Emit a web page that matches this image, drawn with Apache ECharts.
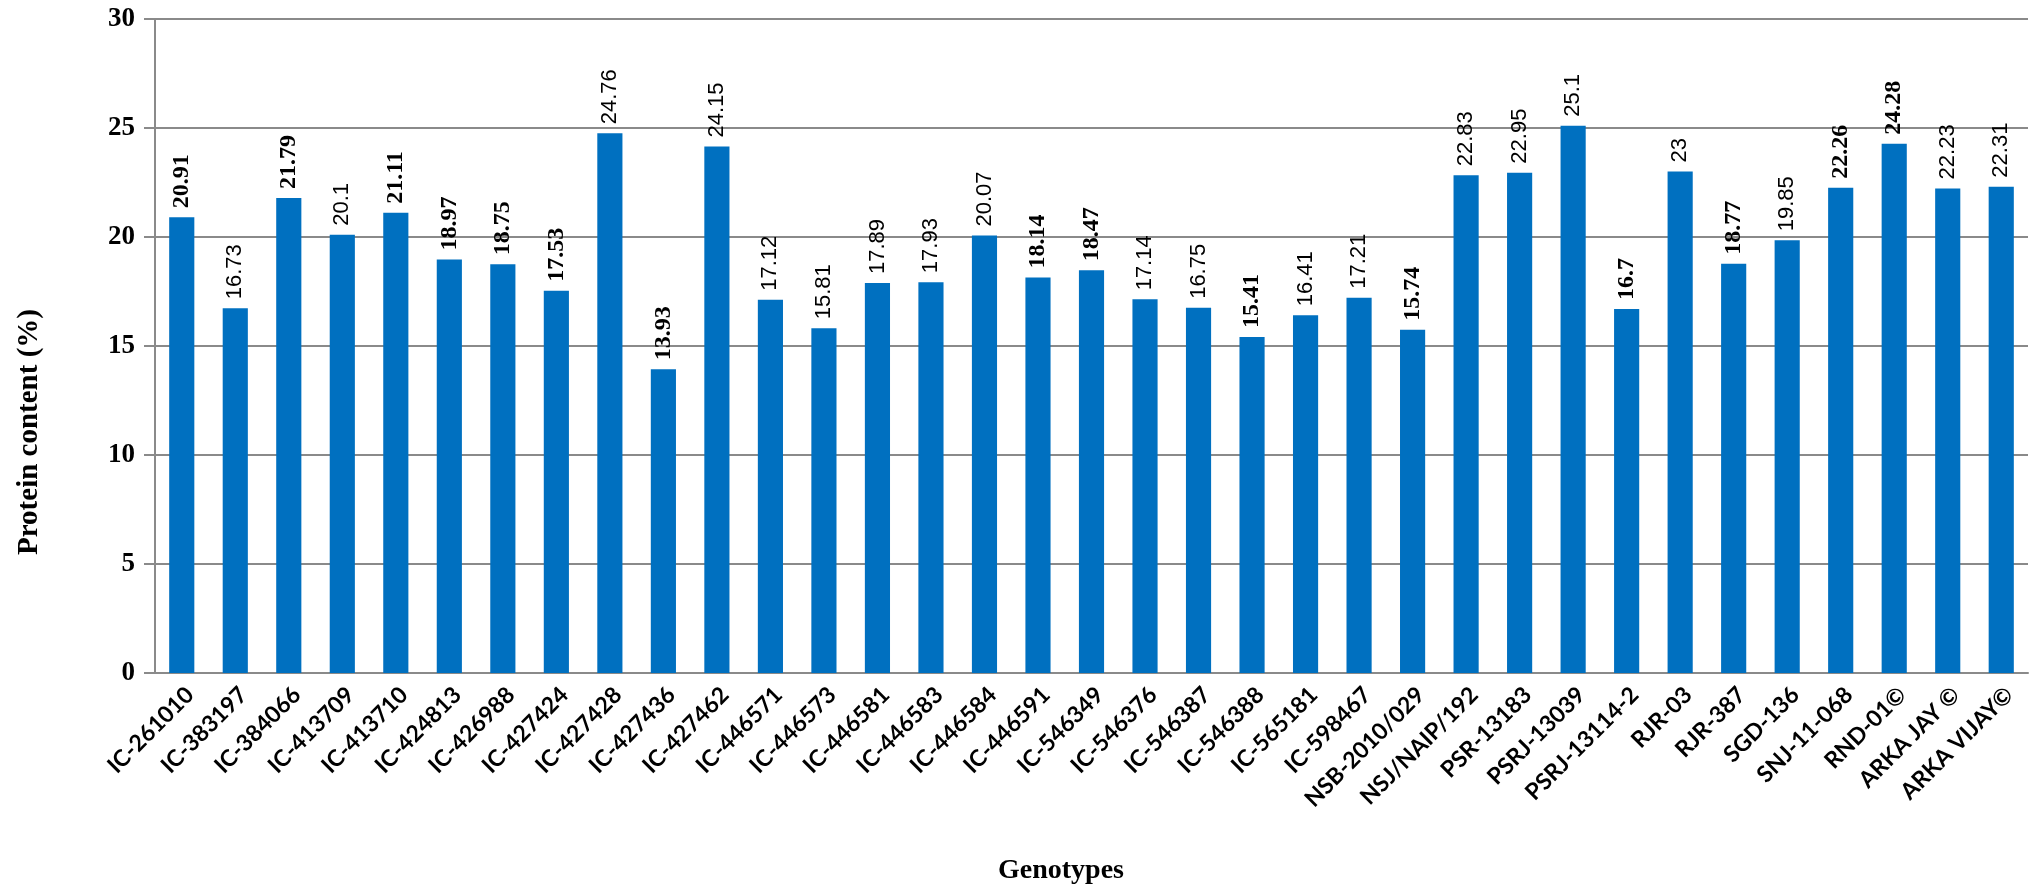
<!DOCTYPE html>
<html>
<head>
<meta charset="utf-8">
<title>Protein content of genotypes</title>
<script src="https://cdn.jsdelivr.net/npm/echarts@6/dist/echarts.min.js"></script>
<style>
  html, body { margin: 0; padding: 0; background: #ffffff; }
  #chart { width: 2039px; height: 891px; }
</style>
</head>
<body>
<div id="chart"></div>
<script>
// Genotypes on the x axis
const genotypes = [
  'IC-261010', 'IC-383197', 'IC-384066', 'IC-413709', 'IC-413710', 'IC-424813',
  'IC-426988', 'IC-427424', 'IC-427428', 'IC-427436', 'IC-427462', 'IC-446571',
  'IC-446573', 'IC-446581', 'IC-446583', 'IC-446584', 'IC-446591', 'IC-546349',
  'IC-546376', 'IC-546387', 'IC-546388', 'IC-565181', 'IC-598467', 'NSB-2010/029',
  'NSJ/NAIP/192', 'PSR-13183', 'PSRJ-13039', 'PSRJ-13114-2', 'RJR-03', 'RJR-387',
  'SGD-136', 'SNJ-11-068', 'RND-01©', 'ARKA JAY ©', 'ARKA VIJAY©'
];

// Protein content (%) for each genotype
const protein = [
  20.91, 16.73, 21.79, 20.1, 21.11, 18.97,
  18.75, 17.53, 24.76, 13.93, 24.15, 17.12,
  15.81, 17.89, 17.93, 20.07, 18.14, 18.47,
  17.14, 16.75, 15.41, 16.41, 17.21, 15.74,
  22.83, 22.95, 25.1, 16.7, 23, 18.77,
  19.85, 22.26, 24.28, 22.23, 22.31
];

// Y axis scale
const yMin = 0;
const yMax = 30;
const yStep = 5;

// Genotypes whose value labels are set in the bold serif face
const serifLabelGenotypes = [
  'IC-261010', 'IC-384066', 'IC-413710', 'IC-424813', 'IC-426988', 'IC-427424',
  'IC-427436', 'IC-446591', 'IC-546349', 'IC-546388', 'NSB-2010/029',
  'PSRJ-13114-2', 'RJR-387', 'SNJ-11-068', 'RND-01©'
];

const GRID_COLOR = '#8a8a8a';
const BAR_COLOR = '#0070C0';

// Value labels: vertical text reading upward, starting just above each bar
const labelBase = {
  show: true,
  position: 'top',
  rotate: 90,
  align: 'left',
  verticalAlign: 'middle',
  distance: 9,
  color: '#000'
};
const serifLabel = Object.assign({}, labelBase, {
  fontFamily: 'Liberation Serif', fontWeight: 'bold', fontSize: 24
});
const sansLabel = Object.assign({}, labelBase, {
  fontFamily: 'Liberation Sans', fontWeight: 'normal', fontSize: 22
});

const barData = protein.map((v, i) => ({
  value: v,
  label: serifLabelGenotypes.includes(genotypes[i]) ? serifLabel : sansLabel
}));

const chart = echarts.init(document.getElementById('chart'), null, { renderer: 'canvas' });

chart.setOption({
  animation: false,
  backgroundColor: '#ffffff',
  grid: { left: 155, right: 11, top: 19, bottom: 218, containLabel: false },
  xAxis: {
    type: 'category',
    data: genotypes,
    axisLine: { show: true, lineStyle: { color: GRID_COLOR, width: 2 } },
    axisTick: { show: false },
    axisLabel: {
      interval: 0,
      rotate: 45,
      margin: 10,
      verticalAlign: 'top',
      fontFamily: 'Lato',
      fontWeight: 'bold',
      fontSize: 23,
      color: '#000'
    }
  },
  yAxis: {
    type: 'value',
    min: yMin,
    max: yMax,
    interval: yStep,
    axisLine: { show: true, lineStyle: { color: GRID_COLOR, width: 2 } },
    axisTick: { show: true, length: 11, lineStyle: { color: GRID_COLOR, width: 2 } },
    splitLine: { show: true, lineStyle: { color: GRID_COLOR, width: 2 } },
    axisLabel: {
      margin: 20,
      fontFamily: 'Liberation Serif',
      fontWeight: 'bold',
      fontSize: 27,
      color: '#000'
    }
  },
  series: [{
    type: 'bar',
    data: barData,
    barWidth: '47%',
    itemStyle: { color: BAR_COLOR },
    label: labelBase
  }],
  graphic: [
    {
      type: 'text',
      x: 30,
      y: 432,
      rotation: Math.PI / 2,
      style: {
        text: 'Protein content (%)',
        fontFamily: 'Liberation Serif',
        fontWeight: 'bold',
        fontSize: 29,
        fill: '#000',
        align: 'center',
        verticalAlign: 'middle'
      }
    },
    {
      type: 'text',
      x: 1061,
      y: 871,
      style: {
        text: 'Genotypes',
        fontFamily: 'Liberation Serif',
        fontWeight: 'bold',
        fontSize: 28,
        fill: '#000',
        align: 'center',
        verticalAlign: 'middle'
      }
    }
  ]
});
</script>
</body>
</html>
